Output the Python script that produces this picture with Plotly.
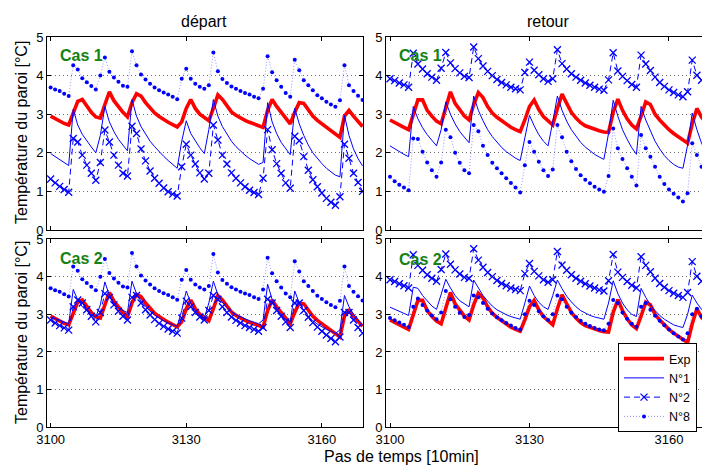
import plotly.graph_objects as go

# ---------------- data (time steps of 10 min) ----------------
steps = list(range(3100, 3170))
x_ticks = [3100, 3130, 3160]
y_ticks = [0, 1, 2, 3, 4, 5]
panel_titles = ["départ", "retour"]
case_labels = ["Cas 1", "Cas 2"]
series_names = ["Exp", "N°1", "N°2", "N°8"]

exp_depart = [2.95, 2.88, 2.82, 2.76, 2.72, 3.05, 3.33, 3.38, 3.2, 3.05,
              2.93, 2.9, 3.25, 3.58, 3.35, 3.18, 3.05, 2.93, 3.3, 3.53,
              3.47, 3.3, 3.15, 3.03, 2.94, 2.86, 2.79, 2.73, 2.67, 2.8,
              3.15, 3.38, 3.15, 3.0, 2.9, 2.83, 3.15, 3.5, 3.38, 3.2,
              3.06, 2.97, 2.9, 2.84, 2.79, 2.74, 2.7, 2.66, 3.1, 3.38,
              3.2, 3.05, 2.9, 2.75, 3.05, 3.3, 3.28, 3.1, 2.95, 2.84,
              2.75, 2.66, 2.57, 2.48, 2.4, 2.95, 3.1, 2.95, 2.8, 2.68]

n1_depart_cas1 = [1.98, 1.9, 1.82, 1.74, 1.67, 3.13, 2.72, 2.48, 2.3, 2.15,
                  2.0, 2.45, 3.2, 2.8, 2.55, 2.35, 2.2, 2.05, 3.38, 2.95,
                  2.68, 2.48, 2.3, 2.16, 2.03, 1.91, 1.8, 1.7, 1.6, 2.3,
                  2.83, 2.5, 2.3, 2.13, 1.98, 2.6, 3.38, 2.95, 2.68, 2.47,
                  2.3, 2.16, 2.04, 1.94, 1.85, 1.77, 1.7, 1.75, 3.3, 2.8,
                  2.5, 2.27, 2.1, 1.95, 3.15, 2.75, 2.45, 2.2, 2.0, 1.85,
                  1.72, 1.6, 1.5, 1.42, 1.38, 2.97, 2.45, 2.1, 1.85, 1.66]

n2_depart_cas1 = [1.32, 1.22, 1.13, 1.05, 0.98, 2.37, 2.28, 1.94, 1.68, 1.47,
                  1.29, 1.75, 2.59, 2.28, 1.94, 1.68, 1.47, 1.4, 2.69, 2.5,
                  2.1, 1.79, 1.53, 1.34, 1.21, 1.09, 0.99, 0.93, 0.88, 1.64,
                  2.22, 1.94, 1.71, 1.48, 1.32, 1.47, 2.72, 2.33, 1.94, 1.71,
                  1.48, 1.34, 1.22, 1.12, 1.03, 0.97, 0.92, 1.34, 2.6, 2.08,
                  1.72, 1.47, 1.22, 1.08, 2.43, 2.31, 1.9, 1.55, 1.3, 1.12,
                  0.96, 0.82, 0.72, 0.64, 0.86, 2.22, 1.86, 1.47, 1.23, 1.0]

n8_depart = [3.69, 3.64, 3.6, 3.53, 3.47, 4.27, 4.16, 3.93, 3.83, 3.73,
             3.64, 4.0, 4.47, 4.1, 3.95, 3.84, 3.74, 3.71, 4.63, 4.27,
             4.03, 3.9, 3.79, 3.69, 3.62, 3.56, 3.51, 3.45, 3.39, 3.92,
             4.18, 3.92, 3.79, 3.71, 3.66, 3.75, 4.6, 4.11, 3.91, 3.81,
             3.72, 3.66, 3.6, 3.55, 3.51, 3.45, 3.41, 3.66, 4.5, 4.09,
             3.88, 3.71, 3.55, 3.45, 4.41, 4.14, 3.88, 3.75, 3.62, 3.49,
             3.41, 3.32, 3.25, 3.19, 3.36, 4.27, 3.75, 3.6, 3.48, 3.37]

n1_depart_cas2 = [2.93, 2.88, 2.83, 2.79, 2.75, 3.66, 3.38, 3.2, 3.08, 2.98,
                  2.93, 3.25, 3.86, 3.5, 3.3, 3.18, 3.1, 3.05, 3.88, 3.55,
                  3.35, 3.2, 3.08, 2.98, 2.9, 2.83, 2.77, 2.72, 2.68, 3.1,
                  3.62, 3.3, 3.1, 2.98, 2.9, 3.3, 3.88, 3.52, 3.32, 3.18,
                  3.07, 2.99, 2.93, 2.88, 2.83, 2.79, 2.75, 2.85, 3.8, 3.4,
                  3.15, 2.98, 2.87, 2.8, 3.62, 3.3, 3.1, 2.95, 2.83, 2.74,
                  2.66, 2.6, 2.55, 2.5, 2.58, 3.5, 3.2, 3.0, 2.85, 2.72]

n2_depart_cas2 = [2.85, 2.77, 2.7, 2.64, 2.58, 3.2, 3.38, 3.3, 3.12, 2.95,
                  2.8, 3.05, 3.55, 3.45, 3.25, 3.08, 2.95, 2.85, 3.45, 3.5,
                  3.3, 3.12, 2.98, 2.86, 2.76, 2.68, 2.61, 2.55, 2.5, 2.9,
                  3.35, 3.2, 3.05, 2.93, 2.85, 3.1, 3.5, 3.4, 3.2, 3.05,
                  2.93, 2.84, 2.77, 2.7, 2.65, 2.6, 2.55, 2.65, 3.4, 3.3,
                  3.1, 2.95, 2.8, 2.65, 3.3, 3.3, 3.1, 2.92, 2.78, 2.66,
                  2.55, 2.45, 2.36, 2.27, 2.4, 3.05, 3.05, 2.85, 2.65, 2.5]

exp_retour = [2.85, 2.78, 2.72, 2.66, 2.6, 3.0, 3.37, 3.37, 3.1, 2.95,
              2.82, 2.75, 3.2, 3.58, 3.28, 3.1, 2.95, 2.85, 3.25, 3.56,
              3.43, 3.2, 3.03, 2.92, 2.83, 2.74, 2.66, 2.6, 2.55, 2.85,
              3.2, 3.37, 3.12, 2.94, 2.82, 2.72, 3.15, 3.52, 3.28, 3.05,
              2.9, 2.78, 2.7, 2.65, 2.6, 2.57, 2.54, 2.53, 3.05, 3.39,
              3.1, 2.88, 2.72, 2.62, 2.95, 3.32, 3.25, 3.0, 2.85, 2.72,
              2.6, 2.5, 2.42, 2.33, 2.25, 2.75, 3.15, 2.92, 2.78, 2.65]

n1_retour_cas1 = [2.18, 2.1, 2.03, 1.96, 1.9, 3.2, 2.88, 2.65, 2.47, 2.31,
                  2.18, 2.6, 3.32, 3.0, 2.75, 2.55, 2.39, 2.26, 3.47, 3.1,
                  2.83, 2.6, 2.42, 2.27, 2.14, 2.03, 1.94, 1.86, 1.8, 2.4,
                  2.97, 2.7, 2.47, 2.3, 2.18, 2.8, 3.47, 3.1, 2.82, 2.6,
                  2.42, 2.27, 2.15, 2.05, 1.96, 1.89, 1.83, 2.5, 3.36, 2.95,
                  2.6, 2.35, 2.13, 1.96, 3.2, 2.85, 2.55, 2.3, 2.1, 1.93,
                  1.8, 1.7, 1.63, 1.6, 2.2, 3.03, 2.6, 2.25, 2.0, 1.8]

n2_retour = [3.92, 3.87, 3.81, 3.76, 3.7, 4.58, 4.3, 4.17, 4.05, 3.96,
             3.88, 4.19, 4.6, 4.33, 4.18, 4.07, 3.98, 3.95, 4.74, 4.44,
             4.25, 4.11, 4.0, 3.9, 3.82, 3.76, 3.7, 3.66, 3.63, 4.08,
             4.35, 4.14, 4.02, 3.92, 3.85, 3.92, 4.67, 4.31, 4.17, 4.05,
             3.96, 3.88, 3.81, 3.75, 3.7, 3.65, 3.62, 3.89, 4.59, 4.12,
             3.98, 3.87, 3.77, 3.7, 4.53, 4.3, 4.13, 3.96, 3.82, 3.72,
             3.63, 3.56, 3.5, 3.45, 3.58, 4.4, 4.01, 3.88, 3.78, 3.7]

n8_retour_cas1 = [1.38, 1.26, 1.17, 1.1, 1.03, 2.37, 2.36, 2.03, 1.75, 1.55,
                  1.38, 1.75, 2.6, 2.4, 2.0, 1.74, 1.55, 1.47, 2.72, 2.56,
                  2.18, 1.94, 1.74, 1.6, 1.47, 1.34, 1.22, 1.1, 0.97, 1.68,
                  2.28, 2.03, 1.77, 1.55, 1.4, 1.57, 2.72, 2.4, 2.03, 1.78,
                  1.58, 1.42, 1.3, 1.21, 1.12, 1.05, 0.99, 1.4, 2.63, 2.12,
                  1.84, 1.6, 1.38, 1.15, 2.46, 2.12, 1.9, 1.64, 1.38, 1.19,
                  1.05, 0.94, 0.84, 0.74, 0.95, 2.25, 1.94, 1.64, 1.4, 1.2]

n1_retour_cas2 = [3.19, 3.13, 3.08, 3.03, 2.97, 3.72, 3.69, 3.5, 3.35, 3.22,
                  3.13, 3.5, 3.93, 3.7, 3.5, 3.36, 3.27, 3.2, 3.91, 3.7,
                  3.5, 3.35, 3.22, 3.12, 3.05, 2.99, 2.94, 2.9, 2.87, 3.3,
                  3.75, 3.5, 3.32, 3.2, 3.13, 3.5, 3.91, 3.68, 3.48, 3.33,
                  3.2, 3.1, 3.03, 2.97, 2.93, 2.9, 2.87, 3.3, 3.89, 3.55,
                  3.3, 3.12, 3.0, 2.94, 3.69, 3.45, 3.25, 3.1, 2.97, 2.87,
                  2.79, 2.72, 2.68, 2.65, 3.0, 3.51, 3.3, 3.13, 3.0, 2.9]

n8_retour_cas2 = [2.9, 2.84, 2.78, 2.72, 2.66, 3.2, 3.42, 3.25, 3.1, 2.97,
                  2.87, 3.05, 3.62, 3.4, 3.2, 3.04, 2.93, 2.98, 3.5, 3.45,
                  3.3, 3.15, 3.02, 2.92, 2.84, 2.77, 2.7, 2.64, 2.6, 3.0,
                  3.36, 3.25, 3.08, 2.95, 2.85, 3.0, 3.5, 3.4, 3.2, 3.05,
                  2.93, 2.83, 2.75, 2.69, 2.64, 2.6, 2.58, 2.75, 3.38, 3.3,
                  3.05, 2.88, 2.75, 2.67, 3.2, 3.3, 3.12, 2.96, 2.83, 2.71,
                  2.6, 2.5, 2.41, 2.33, 2.5, 3.0, 3.15, 2.95, 2.8, 2.68]

# ---------------- layout helpers ----------------
W, H = 702, 465
FONT = "Liberation Sans, Arial, Helvetica, sans-serif"


def fx(p):
    return p / W


def fy(p):
    return 1 - p / H


panels = [
    # (xaxis id, yaxis id, x-domain px, y-domain px, x-range, series, is_bottom, is_right)
    ("x", "y", (47, 363), (37, 230), (3099.2, 3169.1),
     [exp_depart, n1_depart_cas1, n2_depart_cas1, n8_depart], False, False),
    ("x2", "y2", (386, 702), (37, 230), (3099.14, 3167.1),
     [exp_retour, n1_retour_cas1, n2_retour, n8_retour_cas1], False, True),
    ("x3", "y3", (47, 363), (239, 427.3), (3099.2, 3169.1),
     [exp_depart, n1_depart_cas2, n2_depart_cas2, n8_depart], True, False),
    ("x4", "y4", (386, 702), (239, 427.3), (3099.14, 3167.1),
     [exp_retour, n1_retour_cas2, n2_retour, n8_retour_cas2], True, True),
]

styles = [
    dict(mode="lines", line=dict(color="rgb(255,0,0)", width=3.6)),
    dict(mode="lines", line=dict(color="rgb(0,0,255)", width=1)),
    dict(mode="lines+markers", line=dict(color="rgb(0,0,255)", width=1, dash="6px,4px"),
         marker=dict(symbol="x-thin", size=7, line=dict(color="rgb(0,0,255)", width=1.3))),
    dict(mode="lines+markers", line=dict(color="rgba(60,60,255,0.55)", width=1, dash="1px,2px"),
         marker=dict(symbol="circle", size=4, color="rgb(0,0,255)")),
]

fig = go.Figure()
layout = dict(
    template="none",
    width=W, height=H,
    margin=dict(l=0, r=0, t=0, b=0, pad=0, autoexpand=False),
    paper_bgcolor="white", plot_bgcolor="white",
    font=dict(family=FONT, size=13, color="black"),
    showlegend=True,
    legend=dict(x=fx(697), y=fy(343), xanchor="right", yanchor="top",
                bgcolor="white", bordercolor="black", borderwidth=1,
                font=dict(family=FONT, size=12.5, color="black"),
                itemwidth=40, tracegroupgap=0),
)

for k, (xa, ya, xd, yd, xr, series, bottom, right) in enumerate(panels):
    for j, (vals, st) in enumerate(zip(series, styles)):
        fig.add_trace(go.Scatter(
            x=steps, y=vals, xaxis=xa, yaxis=ya, name=series_names[j],
            showlegend=(k == 3), legendgroup=series_names[j], **st))
    xkey = "xaxis" if xa == "x" else "xaxis" + xa[1:]
    ykey = "yaxis" if ya == "y" else "yaxis" + ya[1:]
    layout[xkey] = dict(
        domain=[fx(xd[0]), fx(xd[1])], range=list(xr), anchor=ya, automargin=False,
        showline=True, linecolor="black", linewidth=1, mirror="ticks",
        ticks="inside", ticklen=4, tickcolor="black",
        tickvals=x_ticks, showticklabels=bottom, showgrid=False, zeroline=False,
        tickfont=dict(family=FONT, size=13))
    layout[ykey] = dict(
        domain=[fy(yd[1]), fy(yd[0])], range=[0, 5], anchor=xa, automargin=False,
        showline=True, linecolor="black", linewidth=1,
        mirror=False if right else "ticks",
        ticks="inside", ticklen=4, tickcolor="black", tickvals=y_ticks,
        showgrid=True, gridcolor="rgb(110,110,110)", griddash="1px,3px", gridwidth=1,
        zeroline=False, tickfont=dict(family=FONT, size=13))


def note(text, x, y, size=16, angle=0, xanchor="center", color="black", bold=False):
    return dict(text=("<b>%s</b>" % text) if bold else text,
                x=fx(x), y=fy(y), xref="paper", yref="paper",
                xanchor=xanchor, yanchor="middle", showarrow=False, textangle=angle,
                font=dict(family=FONT, size=size, color=color))


ann = [
    note(panel_titles[0], 204, 21),
    note(panel_titles[1], 548, 21),
    note("Température du paroi [°C]", 21, 133, angle=-90),
    note("Température du paroi [°C]", 21, 333, angle=-90),
    note("Pas de temps [10min]", 401, 456),
    note(case_labels[0], 58, 55, xanchor="left", color="rgb(20,130,20)", bold=True),
    note(case_labels[0], 397, 55, xanchor="left", color="rgb(20,130,20)", bold=True),
    note(case_labels[1], 58, 258, xanchor="left", color="rgb(20,130,20)", bold=True),
    note(case_labels[1], 397, 259, xanchor="left", color="rgb(20,130,20)", bold=True),
]
layout["annotations"] = ann

fig.update_layout(**layout)
fig.write_html("out.html")
